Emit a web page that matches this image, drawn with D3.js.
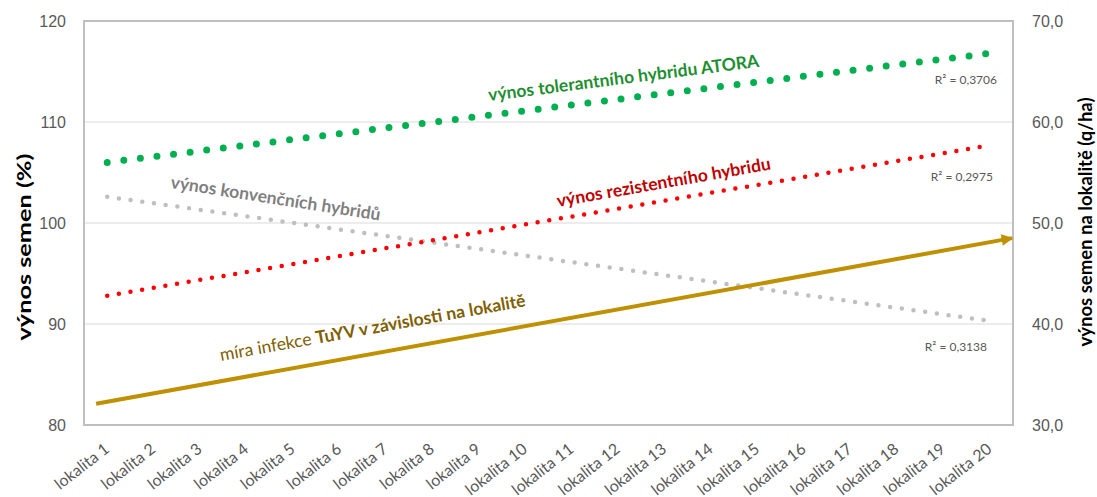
<!DOCTYPE html>
<html>
<head>
<meta charset="utf-8">
<script src="https://cdn.jsdelivr.net/npm/d3@7"></script>
<style>
  body { margin: 0; background: #fff; }
  svg { font-family: Lato, "Open Sans", sans-serif; }
</style>
</head>
<body>
<div id="chart"></div>
<script>
// categories
const localities = d3.range(1, 21).map((i) => "lokalita " + i);

// trendline end values (first / last locality), left axis in %
const tolerantTrend = [106.0, 116.8];
const resistantTrend = [92.8, 107.7];
const conventionalTrend = [102.6, 90.3];
// infection arrow, right axis q/ha, positions in locality units
const infectionPos = [0.76, 20.48];
const infectionTrend = [32.1, 48.5];

const leftTicks = [80, 90, 100, 110, 120];
const rightTicks = [30, 40, 50, 60, 70];
const rSquared = ["R² = 0,3706", "R² = 0,2975", "R² = 0,3138"];

const margin = { top: 21, right: 84, bottom: 72, left: 84 };
const W = 1097, H = 497;
const width = W - margin.left - margin.right;
const height = H - margin.top - margin.bottom;

const svg = d3
  .select("#chart")
  .append("svg")
  .attr("width", W)
  .attr("height", H);

const g = svg.append("g").attr("transform", `translate(${margin.left},${margin.top})`);

const x = d3.scaleBand().domain(localities).range([0, width]);
// position scale in locality units (1..20 -> band centres)
const xp = d3
  .scaleLinear()
  .domain([1, 20])
  .range([x(localities[0]) + x.bandwidth() / 2, x(localities[19]) + x.bandwidth() / 2]);
const y = d3.scaleLinear().domain([80, 120]).range([height, 0]);
const y2 = d3.scaleLinear().domain([30, 70]).range([height, 0]);

// gridlines
g.selectAll(".grid")
  .data(leftTicks.slice(1, -1))
  .join("line")
  .attr("x1", 0)
  .attr("x2", width)
  .attr("y1", (d) => y(d))
  .attr("y2", (d) => y(d))
  .attr("stroke", "#d9d9d9")
  .attr("stroke-width", 1);

// plot border
g.append("rect")
  .attr("width", width)
  .attr("height", height)
  .attr("fill", "none")
  .attr("stroke", "#bfbfbf")
  .attr("stroke-width", 2);

// left axis
const yAxis = g.append("g").call(d3.axisLeft(y).tickValues(leftTicks).tickSize(0).tickPadding(18));
yAxis.select(".domain").remove();
yAxis.selectAll("text").attr("fill", "#595959").style("font-size", "16px");

// right axis
const yAxis2 = g
  .append("g")
  .attr("transform", `translate(${width},0)`)
  .call(d3.axisRight(y2).tickValues(rightTicks).tickSize(0).tickPadding(19).tickFormat((d) => d3.format(".1f")(d).replace(".", ",")));
yAxis2.select(".domain").remove();
yAxis2.selectAll("text").attr("fill", "#595959").style("font-size", "16px");

// x axis labels, slanted
localities.forEach((d) => {
  const cx = margin.left + x(d) + x.bandwidth() / 2 + 3;
  const cy = margin.top + height + 26;
  svg.append("text")
    .attr("transform", `translate(${cx},${cy}) rotate(-38)`)
    .attr("text-anchor", "end")
    .style("font-size", "16px")
    .attr("fill", "#595959")
    .text(d);
});

// axis titles
svg.append("text")
  .attr("transform", `translate(31,${margin.top + 226}) rotate(-90)`)
  .attr("text-anchor", "middle")
  .attr("textLength", 187)
  .attr("lengthAdjust", "spacingAndGlyphs")
  .style("font-size", "19px")
  .style("font-weight", "bold")
  .attr("fill", "#000")
  .text("výnos semen (%)");

svg.append("text")
  .attr("transform", `translate(1092,${margin.top + 201}) rotate(-90)`)
  .attr("text-anchor", "middle")
  .attr("textLength", 249)
  .attr("lengthAdjust", "spacingAndGlyphs")
  .style("font-size", "19px")
  .style("font-weight", "bold")
  .attr("fill", "#000")
  .text("výnos semen na lokalitě (q/ha)");

// dotted trendlines
const trends = [
  { vals: conventionalTrend, color: "#bfbfbf", w: 4.5, gap: 11.8 },
  { vals: resistantTrend, color: "#ff0000", w: 4.5, gap: 11.8 },
  { vals: tolerantTrend, color: "#00b050", w: 7, gap: 16.7 },
];
const line = d3.line().x((d) => xp(d[0])).y((d) => y(d[1]));
g.selectAll(".trend")
  .data(trends)
  .join("path")
  .attr("d", (d) => line([[1, d.vals[0]], [20, d.vals[1]]]))
  .attr("fill", "none")
  .attr("stroke", (d) => d.color)
  .attr("stroke-width", (d) => d.w)
  .attr("stroke-linecap", "round")
  .attr("stroke-dasharray", (d) => `0 ${d.gap}`);

// infection arrow
svg.append("defs")
  .append("marker")
  .attr("id", "arrow")
  .attr("viewBox", "0 0 10 10")
  .attr("refX", 9)
  .attr("refY", 5)
  .attr("markerWidth", 3.6)
  .attr("markerHeight", 2.9)
  .attr("markerUnits", "strokeWidth")
  .attr("orient", "auto")
  .append("path")
  .attr("d", "M0,0L10,5L0,10Z")
  .attr("fill", "#bf9000");

const line2 = d3.line().x((d) => xp(d[0])).y((d) => y2(d[1]));
g.append("path")
  .attr("d", line2(d3.zip(infectionPos, infectionTrend)))
  .attr("fill", "none")
  .attr("stroke", "#bf9000")
  .attr("stroke-width", 4)
  .attr("marker-end", "url(#arrow)");

// series labels
function label(txt, px, py, angle, color) {
  return svg.append("text")
    .attr("transform", `translate(${px},${py}) rotate(${angle})`)
    .style("font-size", "17.5px")
    .style("font-weight", "bold")
    .attr("fill", color)
    .text(txt);
}
label("výnos tolerantního hybridu ATORA", 489, 101, -7.2, "#1e8f30");
label("výnos rezistentního hybridu", 558, 207, -10, "#c00000");
label("výnos konvenčních hybridů", 170, 188, 8.8, "#7f7f7f");

const gold = svg.append("text")
  .attr("transform", "translate(221,361) rotate(-10.2)")
  .style("font-size", "17.5px")
  .attr("fill", "#806000");
gold.append("tspan").text("míra infekce ");
gold.append("tspan").style("font-weight", "bold").text("TuYV v závislosti na lokalitě");

// R² labels
const r2pos = [[997, 84], [993, 181], [987, 351]];
svg.selectAll(".r2")
  .data(rSquared)
  .join("text")
  .attr("x", (d, i) => r2pos[i][0])
  .attr("y", (d, i) => r2pos[i][1])
  .attr("text-anchor", "end")
  .style("font-size", "12px")
  .attr("fill", "#595959")
  .text((d) => d);
</script>
</body>
</html>
